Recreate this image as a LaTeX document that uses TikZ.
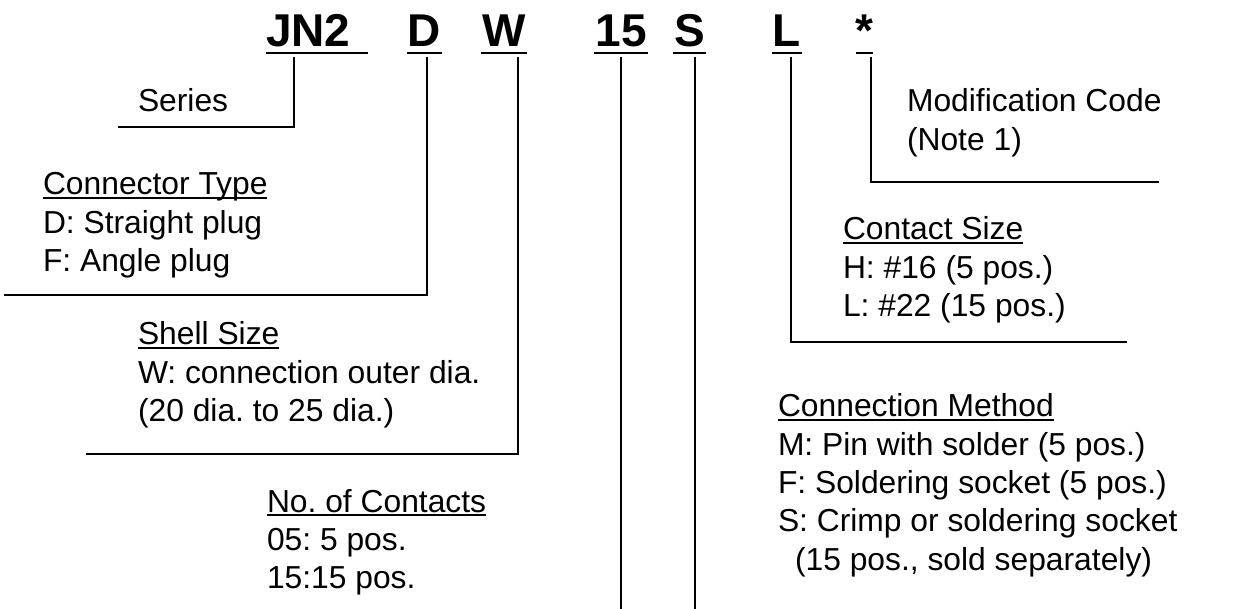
\documentclass[tikz,border=0pt]{standalone}
\usepackage{fontspec}
\setmainfont{Liberation Sans}
\frenchspacing
\newcommand\ulx[1]{\setbox0\hbox{#1}\rlap{\rule[-4pt]{\wd0}{2pt}}\box0}
\begin{document}
\begin{tikzpicture}[x=1pt,y=-1pt,
  conn/.style={line width=1.8pt},
  ubar/.style={line width=2.8pt},
  lab/.style={font=\fontsize{46}{50}\selectfont\bfseries, inner sep=0pt, outer sep=0pt, anchor=base},
  txt/.style={font=\fontsize{31.8}{38.3}\selectfont\frenchspacing, inner sep=0pt, outer sep=0pt, anchor=base west}]
\useasboundingbox (0,0) rectangle (1234,609);

% code letters
\node[lab, anchor=base west] (jn2) at (266,47) {JN2};
\node[lab] (d)  at (424.5,47) {D};
\node[lab] (w)  at (504,47) {W};
\node[lab] (n15) at (621,47) {15};
\node[lab] (s)  at (689.5,47) {S};
\node[lab] (l)  at (787,47) {L};
\node[lab] (ast) at (864.5,47) {*};

% underlines of code letters
\draw[ubar] (266,53) -- (368,53);
\draw[ubar] (407,53) -- (442,53);
\draw[ubar] (481,53) -- (527,53);
\draw[ubar] (594,53) -- (648,53);
\draw[ubar] (673,53) -- (706,53);
\draw[ubar] (772,53) -- (802,53);
\draw[ubar] (856,53) -- (873,53);

% explanation texts
\node[txt] (series) at (138,112) {Series};
\node[txt] (ctype) at (43,195) {\vtop{\hbox{\ulx{Connector Type}}\hbox{D: Straight plug}\hbox{F: Angle plug}}};
\node[txt] (shell) at (138,345) {\vtop{\hbox{\ulx{Shell Size}}\hbox{W: connection outer dia.}\hbox{(20 dia. to 25 dia.)}}};
\node[txt] (ncont) at (267,512) {\vtop{\hbox{\ulx{No. of Contacts}}\hbox{05: 5 pos.}\hbox{15:15 pos.}}};
\node[txt] (modc) at (907,112) {\vtop{\hbox{Modification Code}\hbox{(Note 1)}}};
\node[txt] (csize) at (843,240) {\vtop{\hbox{\ulx{Contact Size}}\hbox{H: \#16 (5 pos.)}\hbox{L: \#22 (15 pos.)}}};
\node[txt] (cmeth) at (778,417) {\vtop{\hbox{\ulx{Connection Method}}\hbox{M: Pin with solder (5 pos.)}\hbox{F: Soldering socket (5 pos.)}\hbox{S: Crimp or soldering socket}\hbox{\hspace*{17pt}(15 pos., sold separately)}}};

% connector coordinates
\coordinate (jn2t) at (294,57);  \coordinate (jn2e) at (118,127);
\coordinate (dt) at (427,57);    \coordinate (de) at (4,295);
\coordinate (wt) at (518,57);    \coordinate (we) at (86,454);
\coordinate (n15t) at (621,57);  \coordinate (n15e) at (621,609);
\coordinate (st) at (695,57);    \coordinate (se) at (695,609);
\coordinate (lt) at (791,57);    \coordinate (le) at (1127,342);
\coordinate (astt) at (871,57);  \coordinate (aste) at (1159,182);

\draw[conn] (jn2t) |- (jn2e);
\draw[conn] (dt) |- (de);
\draw[conn] (wt) |- (we);
\draw[conn] (n15t) -- (n15e);
\draw[conn] (st) -- (se);
\draw[conn] (lt) |- (le);
\draw[conn] (astt) |- (aste);
\end{tikzpicture}
\end{document}
